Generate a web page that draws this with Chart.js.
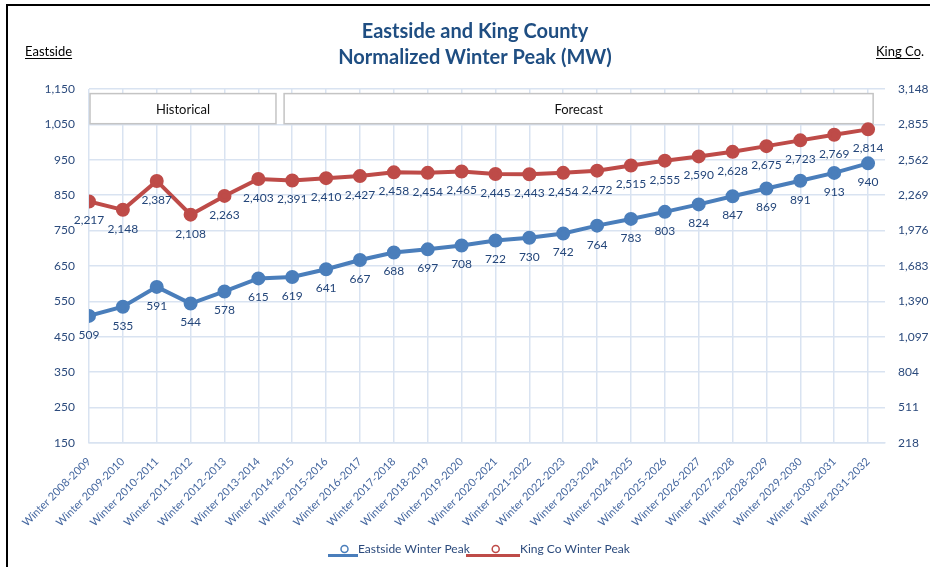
<!DOCTYPE html>
<html>
<head>
<meta charset="utf-8">
<script src="https://cdn.jsdelivr.net/npm/chart.js@4.4.1/dist/chart.umd.min.js"></script>
<style>
    body { margin: 0; background: #fff; }
    #frame { position: absolute; left: 6px; top: 4px; width: 930px; height: 570px; border-top: 2px solid #000; border-left: 2px solid #000; }
    canvas { position: absolute; left: 0; top: 0; }
</style>
</head>
<body>
<div id="frame"></div>
<canvas id="peakChart" width="930" height="567"></canvas>
<script>
const categories = [
    'Winter 2008-2009', 'Winter 2009-2010', 'Winter 2010-2011', 'Winter 2011-2012',
    'Winter 2012-2013', 'Winter 2013-2014', 'Winter 2014-2015', 'Winter 2015-2016',
    'Winter 2016-2017', 'Winter 2017-2018', 'Winter 2018-2019', 'Winter 2019-2020',
    'Winter 2020-2021', 'Winter 2021-2022', 'Winter 2022-2023', 'Winter 2023-2024',
    'Winter 2024-2025', 'Winter 2025-2026', 'Winter 2026-2027', 'Winter 2027-2028',
    'Winter 2028-2029', 'Winter 2029-2030', 'Winter 2030-2031', 'Winter 2031-2032'
];
const eastsidePeak = [509, 535, 591, 544, 578, 615, 619, 641, 667, 688, 697, 708,
    722, 730, 742, 764, 783, 803, 824, 847, 869, 891, 913, 940];
const kingCoPeak = [2217, 2148, 2387, 2108, 2263, 2403, 2391, 2410, 2427, 2458, 2454, 2465,
    2445, 2443, 2454, 2472, 2515, 2555, 2590, 2628, 2675, 2723, 2769, 2814];

// axis ranges (left = Eastside, right = King Co.)
const eastsideAxis = { min: 150, max: 1150, step: 100 };
const kingCoAxis = { min: 218, max: 3148, step: 293 };

// Historical / Forecast boxes, in category units
const periods = [
    { name: 'Historical', from: 0.03, to: 5.52 },
    { name: 'Forecast', from: 5.76, to: 23.15 }
];

const FONT = 'Lato, "Open Sans", sans-serif';
const textBlue = '#2b4a7c';
const eastColor = '#4a7ebb';
const kingColor = '#be4b48';
const gridColor = '#d9e3f1';

const fmt = v => Number(v).toLocaleString('en-US');

const overlayPlugin = {
    id: 'overlay',
    beforeDatasetsDraw(chart) {
        const ctx = chart.ctx;
        const xs = chart.scales.x, ys = chart.scales.y;
        periods.forEach(p => {
            const left = xs.getPixelForValue(p.from);
            const right = xs.getPixelForValue(p.to);
            const top = ys.getPixelForValue(1137);
            const bottom = ys.getPixelForValue(1052);
            ctx.save();
            ctx.fillStyle = '#fff';
            ctx.fillRect(left, top, right - left, bottom - top);
            ctx.strokeStyle = '#c4c4c4';
            ctx.lineWidth = 1.5;
            ctx.strokeRect(left, top, right - left, bottom - top);
            ctx.fillStyle = '#111';
            ctx.font = '13px ' + FONT;
            ctx.textAlign = 'center';
            ctx.textBaseline = 'middle';
            ctx.fillText(p.name, (left + right) / 2, (top + bottom) / 2 + 1);
            ctx.restore();
        });
    },
    afterDatasetsDraw(chart) {
        const ctx = chart.ctx;
        ctx.save();
        ctx.font = '12px ' + FONT;
        ctx.fillStyle = '#24467a';
        ctx.textAlign = 'center';
        ctx.textBaseline = 'middle';
        chart.data.datasets.forEach((ds, i) => {
            const meta = chart.getDatasetMeta(i);
            meta.data.forEach((pt, j) => {
                ctx.fillText(fmt(ds.data[j].y), pt.x, pt.y + 19);
            });
        });
        ctx.restore();
    },
    afterDraw(chart) {
        const ctx = chart.ctx;
        ctx.save();
        // title
        ctx.fillStyle = '#1f4e82';
        ctx.font = 'bold 20px ' + FONT;
        ctx.textAlign = 'center';
        ctx.textBaseline = 'middle';
        ctx.fillText('Eastside and King County', 475, 32);
        ctx.fillText('Normalized Winter Peak (MW)', 475, 58);

        // axis captions, underlined
        ctx.fillStyle = '#000';
        ctx.font = '13px ' + FONT;
        ctx.textBaseline = 'alphabetic';
        ctx.textAlign = 'left';
        const captions = [{ t: 'Eastside', x: 25 }, { t: 'King Co.', x: 876 }];
        captions.forEach(c => {
            const w = ctx.measureText(c.t).width;
            ctx.fillText(c.t, c.x, 56);
            ctx.fillRect(c.x, 58, c.t === 'King Co.' ? w - 4 : w, 1);
        });

        // legend
        const items = [
            { t: 'Eastside Winter Peak', c: eastColor, x0: 328, x1: 358 },
            { t: 'King Co Winter Peak', c: kingColor, x0: 466, x1: 520 }
        ];
        ctx.font = '12px ' + FONT;
        ctx.textBaseline = 'middle';
        items.forEach(it => {
            ctx.fillStyle = it.c;
            ctx.fillRect(it.x0, 554, it.x1 - it.x0, 3);
            ctx.beginPath();
            ctx.arc(it.x0 + (it.x1 - it.x0) * 0.55, 549, 3.5, 0, Math.PI * 2);
            ctx.fillStyle = '#fff';
            ctx.fill();
            ctx.strokeStyle = it.c;
            ctx.lineWidth = 1.5;
            ctx.stroke();
            ctx.fillStyle = textBlue;
            ctx.fillText(it.t, it.x1, 549);
        });
        ctx.restore();
    }
};

const ctx = document.getElementById('peakChart').getContext('2d');
new Chart(ctx, {
    type: 'line',
    data: {
        datasets: [{
            label: 'Eastside Winter Peak',
            data: eastsidePeak.map((v, i) => ({ x: i, y: v })),
            yAxisID: 'y',
            borderColor: eastColor,
            backgroundColor: eastColor,
            pointBackgroundColor: eastColor,
            pointBorderColor: eastColor,
            borderWidth: 4,
            pointRadius: 5,
            tension: 0
        }, {
            label: 'King Co Winter Peak',
            data: kingCoPeak.map((v, i) => ({ x: i, y: v })),
            yAxisID: 'y1',
            borderColor: kingColor,
            backgroundColor: kingColor,
            pointBackgroundColor: kingColor,
            pointBorderColor: kingColor,
            borderWidth: 4,
            pointRadius: 5,
            tension: 0
        }]
    },
    options: {
        responsive: false,
        animation: false,
        layout: { padding: { top: 89, left: 0, right: 0, bottom: 0 } },
        plugins: {
            legend: { display: false },
            tooltip: { enabled: false }
        },
        scales: {
            x: {
                type: 'linear',
                min: 0,
                max: 23.5,
                afterFit: scale => { scale.height = 124; },
                grid: { color: gridColor, lineWidth: 1.5, drawTicks: false },
                border: { color: gridColor, width: 1.5 },
                ticks: {
                    stepSize: 1,
                    includeBounds: false,
                    autoSkip: false,
                    minRotation: 45,
                    maxRotation: 45,
                    padding: 12,
                    color: '#4668a0',
                    font: { family: FONT, size: 11 },
                    callback: v => Number.isInteger(v) ? categories[v] : ''
                }
            },
            y: {
                position: 'left',
                min: eastsideAxis.min,
                max: eastsideAxis.max,
                afterFit: scale => { scale.width = 89; },
                grid: { color: gridColor, lineWidth: 1.5, drawTicks: false },
                border: { display: false },
                ticks: {
                    stepSize: eastsideAxis.step,
                    padding: 14,
                    color: textBlue,
                    font: { family: FONT, size: 12 },
                    callback: v => fmt(v)
                }
            },
            y1: {
                position: 'right',
                min: kingCoAxis.min,
                max: kingCoAxis.max,
                afterFit: scale => { scale.width = 45; },
                grid: { drawOnChartArea: false, drawTicks: false },
                border: { display: false },
                ticks: {
                    stepSize: kingCoAxis.step,
                    padding: 13,
                    color: textBlue,
                    font: { family: FONT, size: 12 },
                    callback: v => fmt(v)
                }
            }
        }
    },
    plugins: [overlayPlugin]
});
</script>
</body>
</html>
